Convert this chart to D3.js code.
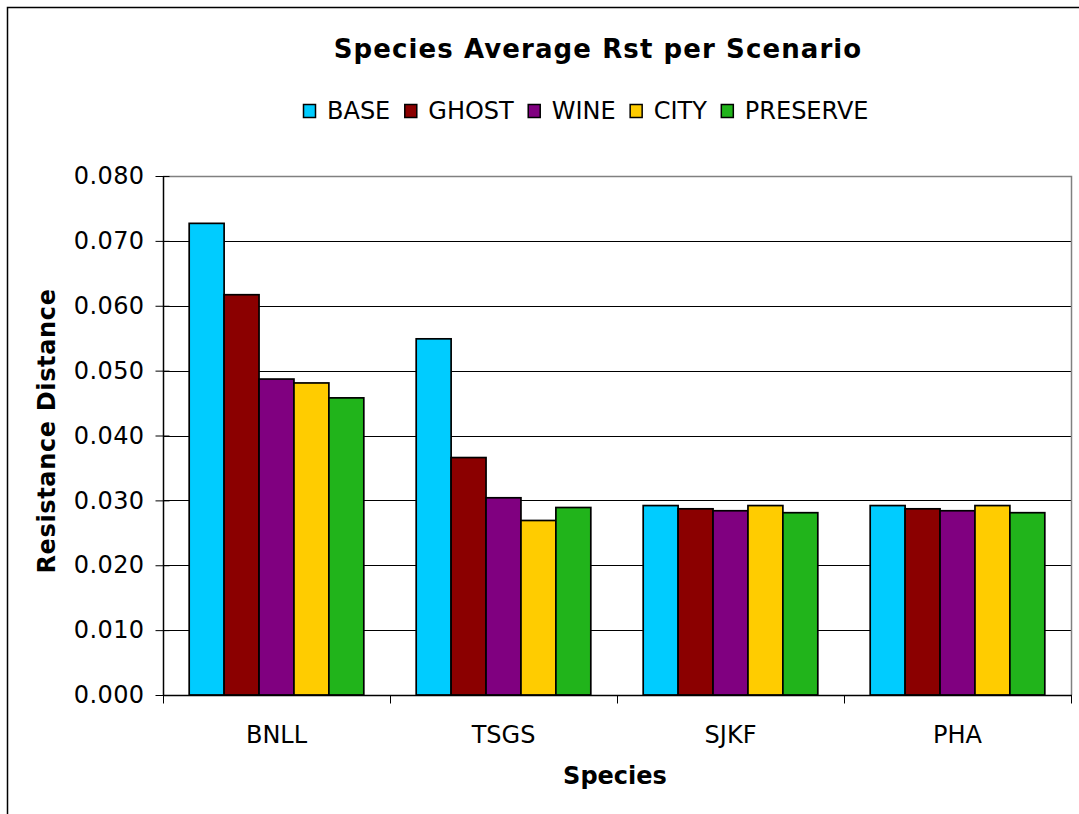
<!DOCTYPE html>
<html>
<head>
<meta charset="utf-8">
<script src="https://cdn.jsdelivr.net/npm/d3@7"></script>
<style>
  html, body { margin: 0; padding: 0; background: #fff; }
  svg { display: block; }
  text { font-family: "DejaVu Sans", Verdana, sans-serif; fill: #000; }
</style>
</head>
<body>
<svg id="chart" width="1079" height="814"></svg>
<script>
const categories = ["BNLL", "TSGS", "SJKF", "PHA"];
const seriesNames = ["BASE", "GHOST", "WINE", "CITY", "PRESERVE"];
const seriesColors = ["#00CCFF", "#8B0000", "#800080", "#FFCC00", "#21B41B"];
const baseValues = [0.0727, 0.0549, 0.0292, 0.0292];
const ghostValues = [0.0617, 0.0366, 0.0287, 0.0287];
const wineValues = [0.0487, 0.0304, 0.0284, 0.0284];
const cityValues = [0.0481, 0.0269, 0.0292, 0.0292];
const preserveValues = [0.0458, 0.0289, 0.0281, 0.0281];
const yTicks = [0, 0.01, 0.02, 0.03, 0.04, 0.05, 0.06, 0.07, 0.08];
const titleText = "Species Average Rst per Scenario";
const yTitle = "Resistance Distance";
const xTitle = "Species";

const seriesValues = [baseValues, ghostValues, wineValues, cityValues, preserveValues];

const svg = d3.select("#chart");
const plot = { left: 163, top: 176, right: 1071, bottom: 695 };

// outer frame (clipped at right/bottom like the reference)
svg.append("rect")
  .attr("x", 7.5).attr("y", 7.5)
  .attr("width", 1200).attr("height", 1000)
  .attr("fill", "none").attr("stroke", "#000").attr("stroke-width", 1.5);

const y = d3.scaleLinear().domain([0, 0.08]).range([plot.bottom, plot.top]);
const x0 = d3.scaleBand().domain(categories).range([plot.left, plot.right]).paddingInner(0).paddingOuter(0);
// Excel-like gap width 150%: group occupies 5/6.5 of the band
const groupFrac = 5 / 6.5;
const x1 = d3.scaleBand().domain(seriesNames)
  .range([0, x0.bandwidth() * groupFrac]);

// gridlines
svg.append("g").selectAll("line")
  .data(yTicks.filter(t => t > 0 && t < 0.08))
  .join("line")
  .attr("x1", plot.left).attr("x2", plot.right)
  .attr("y1", d => Math.round(y(d)) + 0.5).attr("y2", d => Math.round(y(d)) + 0.5)
  .attr("stroke", "#000").attr("stroke-width", 1);

// plot border top/right gray
svg.append("path")
  .attr("d", `M${plot.left},${plot.top + 0.5}H${plot.right + 0.5}V${plot.bottom}`)
  .attr("fill", "none").attr("stroke", "#808080").attr("stroke-width", 1.5);

// bars
const groups = svg.append("g").selectAll("g")
  .data(categories)
  .join("g")
  .attr("transform", c => `translate(${x0(c) + x0.bandwidth() * (1 - groupFrac) / 2},0)`);

groups.selectAll("rect")
  .data((c, ci) => seriesNames.map((s, si) => ({ s, si, v: seriesValues[si][ci] })))
  .join("rect")
  .attr("x", d => x1(d.s))
  .attr("width", x1.bandwidth())
  .attr("y", d => y(d.v))
  .attr("height", d => plot.bottom - y(d.v))
  .attr("fill", d => seriesColors[d.si])
  .attr("stroke", "#000").attr("stroke-width", 1.7);

// y axis
const yAxis = d3.axisLeft(y).tickValues(yTicks).tickFormat(d3.format(".3f")).tickSize(8).tickPadding(10);
const yg = svg.append("g").attr("transform", `translate(${plot.left + 0.5},0)`).call(yAxis);
yg.select(".domain").attr("stroke", "#000").attr("stroke-width", 1.5).attr("d", `M0,${plot.top}V${plot.bottom}`);
yg.selectAll(".tick line").attr("stroke", "#000").attr("x2", 6).attr("x1", -8);
yg.selectAll(".tick text").attr("font-size", 24).attr("font-family", "DejaVu Sans").attr("fill", "#000")
  .attr("x", -19).attr("letter-spacing", 0.4);

// x axis
const xAxis = d3.axisBottom(x0).tickSize(0).tickPadding(0);
const xg = svg.append("g").attr("transform", `translate(0,${plot.bottom + 0.5})`).call(xAxis);
xg.select(".domain").attr("stroke", "#000").attr("stroke-width", 1.5).attr("d", `M${plot.left},0H${plot.right + 1}`);
xg.selectAll(".tick text").attr("font-size", 24).attr("font-family", "DejaVu Sans").attr("fill", "#000")
  .attr("dy", null).attr("y", 47);
// category boundary ticks
const boundaries = categories.map(c => x0(c)).concat([plot.right]);
xg.append("g").selectAll("line").data(boundaries).join("line")
  .attr("x1", d => Math.round(d) + 0.5).attr("x2", d => Math.round(d) + 0.5)
  .attr("y1", 0).attr("y2", 8)
  .attr("stroke", "#000").attr("stroke-width", 1);

// title
svg.append("text").attr("x", 598).attr("y", 58)
  .attr("text-anchor", "middle").attr("font-size", 26).attr("font-weight", "bold")
  .attr("letter-spacing", 1.1)
  .text(titleText);

// axis titles
svg.append("text").attr("transform", "translate(55,431) rotate(-90)")
  .attr("text-anchor", "middle").attr("font-size", 24).attr("font-weight", "bold")
  .attr("letter-spacing", 0.65)
  .text(yTitle);
svg.append("text").attr("x", 615).attr("y", 784)
  .attr("text-anchor", "middle").attr("font-size", 24).attr("font-weight", "bold")
  .text(xTitle);

// legend
const legend = svg.append("g");
let lx = 0;
seriesNames.forEach((s, i) => {
  const g = legend.append("g");
  g.append("rect").attr("x", 0.5).attr("y", 104.5).attr("width", 12).attr("height", 13)
    .attr("fill", seriesColors[i]).attr("stroke", "#000").attr("stroke-width", 1.5);
  const t = g.append("text").attr("x", 24).attr("y", 118.5).attr("font-size", 24).text(s);
  const w = t.node().getComputedTextLength();
  g.attr("transform", `translate(${lx},0)`);
  lx += 24 + w + 14;
});
const legendWidth = lx - 14;
legend.attr("transform", `translate(${Math.round(586 - legendWidth / 2)},0)`);
</script>
</body>
</html>
